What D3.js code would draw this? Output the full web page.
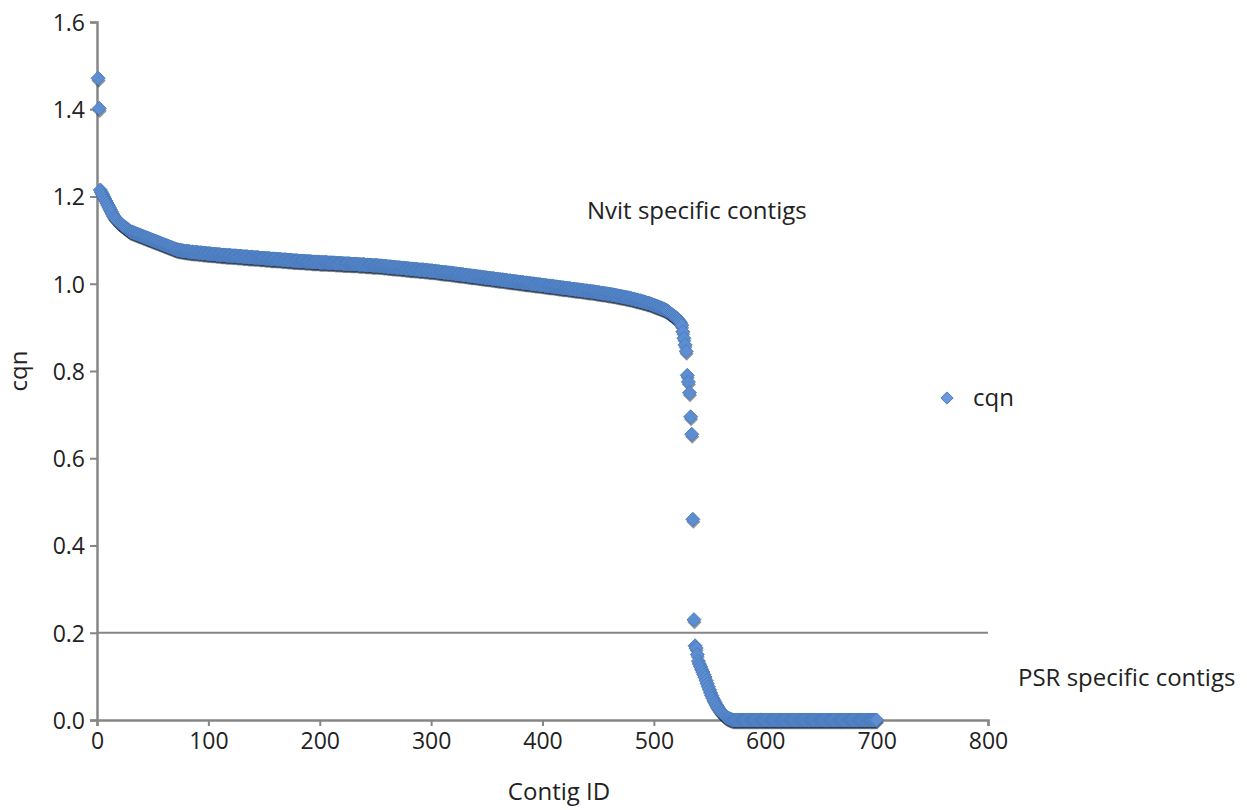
<!DOCTYPE html>
<html>
<head>
<meta charset="utf-8">
<script src="https://cdn.jsdelivr.net/npm/d3@7"></script>
<style>
  body { margin: 0; background: #fff; }
  svg text { font-family: "Open Sans", "Liberation Sans", sans-serif; fill: #222; }
</style>
</head>
<body>
<svg id="chart"></svg>
<script>
const w = 1247;
const h = 810;

// axis ticks
const xTicks = [0, 100, 200, 300, 400, 500, 600, 700, 800];
const yTicks = [0.0, 0.2, 0.4, 0.6, 0.8, 1.0, 1.2, 1.4, 1.6];
const threshold = 0.2;
const seriesName = "cqn";

// cqn value per contig, sorted high -> low (contig IDs 1..700)
const cqn = [
  1.471,1.402,1.215,1.210,1.205,1.200,1.195,1.190,1.185,1.180,
  1.175,1.170,1.165,1.160,1.155,1.152,1.149,1.146,1.143,1.140,
  1.138,1.136,1.134,1.132,1.130,1.128,1.126,1.124,1.122,1.120,
  1.119,1.118,1.117,1.116,1.115,1.114,1.113,1.112,1.111,1.110,
  1.109,1.108,1.107,1.106,1.105,1.104,1.103,1.102,1.101,1.100,
  1.099,1.098,1.097,1.096,1.095,1.094,1.093,1.092,1.091,1.090,
  1.089,1.088,1.087,1.086,1.085,1.084,1.083,1.082,1.081,1.080,
  1.079,1.078,1.078,1.077,1.077,1.076,1.076,1.075,1.075,1.075,
  1.074,1.074,1.074,1.073,1.073,1.073,1.072,1.072,1.072,1.072,
  1.071,1.071,1.071,1.071,1.070,1.070,1.070,1.070,1.069,1.069,
  1.069,1.069,1.068,1.068,1.068,1.068,1.067,1.067,1.067,1.067,
  1.066,1.066,1.066,1.066,1.066,1.065,1.065,1.065,1.065,1.065,
  1.064,1.064,1.064,1.064,1.064,1.063,1.063,1.063,1.063,1.063,
  1.062,1.062,1.062,1.062,1.062,1.061,1.061,1.061,1.061,1.061,
  1.060,1.060,1.060,1.060,1.060,1.059,1.059,1.059,1.059,1.059,
  1.058,1.058,1.058,1.058,1.058,1.057,1.057,1.057,1.057,1.057,
  1.056,1.056,1.056,1.056,1.056,1.055,1.055,1.055,1.055,1.055,
  1.054,1.054,1.054,1.054,1.054,1.053,1.053,1.053,1.053,1.053,
  1.052,1.052,1.052,1.052,1.052,1.052,1.051,1.051,1.051,1.051,
  1.051,1.051,1.050,1.050,1.050,1.050,1.050,1.050,1.050,1.049,
  1.049,1.049,1.049,1.049,1.049,1.049,1.048,1.048,1.048,1.048,
  1.048,1.048,1.048,1.047,1.047,1.047,1.047,1.047,1.047,1.047,
  1.046,1.046,1.046,1.046,1.046,1.046,1.046,1.045,1.045,1.045,
  1.045,1.045,1.045,1.045,1.044,1.044,1.044,1.044,1.044,1.044,
  1.043,1.043,1.043,1.043,1.043,1.043,1.042,1.042,1.042,1.042,
  1.042,1.042,1.041,1.041,1.041,1.041,1.040,1.040,1.040,1.040,
  1.039,1.039,1.039,1.039,1.038,1.038,1.038,1.038,1.037,1.037,
  1.037,1.037,1.036,1.036,1.036,1.036,1.035,1.035,1.035,1.035,
  1.034,1.034,1.034,1.034,1.033,1.033,1.033,1.033,1.032,1.032,
  1.032,1.032,1.032,1.031,1.031,1.031,1.031,1.030,1.030,1.030,
  1.030,1.029,1.029,1.029,1.028,1.028,1.028,1.027,1.027,1.027,
  1.026,1.026,1.026,1.026,1.025,1.025,1.025,1.024,1.024,1.024,
  1.023,1.023,1.023,1.022,1.022,1.022,1.021,1.021,1.021,1.020,
  1.020,1.020,1.019,1.019,1.019,1.018,1.018,1.018,1.017,1.017,
  1.017,1.016,1.016,1.016,1.015,1.015,1.015,1.014,1.014,1.014,
  1.013,1.013,1.013,1.012,1.012,1.012,1.011,1.011,1.011,1.010,
  1.010,1.010,1.009,1.009,1.009,1.008,1.008,1.008,1.007,1.007,
  1.007,1.006,1.006,1.006,1.005,1.005,1.005,1.004,1.004,1.004,
  1.003,1.003,1.003,1.002,1.002,1.002,1.001,1.001,1.001,1.000,
  1.000,1.000,0.999,0.999,0.999,0.998,0.998,0.998,0.997,0.997,
  0.997,0.996,0.996,0.996,0.995,0.995,0.995,0.994,0.994,0.994,
  0.993,0.993,0.993,0.992,0.992,0.992,0.991,0.991,0.991,0.990,
  0.990,0.990,0.989,0.989,0.989,0.988,0.988,0.988,0.987,0.987,
  0.987,0.986,0.986,0.986,0.985,0.985,0.985,0.984,0.984,0.984,
  0.983,0.983,0.983,0.982,0.982,0.982,0.981,0.981,0.980,0.980,
  0.980,0.979,0.979,0.978,0.978,0.978,0.977,0.977,0.976,0.976,
  0.976,0.975,0.975,0.974,0.974,0.973,0.973,0.972,0.972,0.971,
  0.971,0.970,0.970,0.969,0.969,0.968,0.968,0.967,0.967,0.966,
  0.965,0.965,0.964,0.963,0.963,0.962,0.961,0.961,0.960,0.959,
  0.959,0.958,0.957,0.956,0.956,0.955,0.954,0.953,0.952,0.951,
  0.950,0.949,0.948,0.947,0.946,0.945,0.944,0.943,0.942,0.941,
  0.939,0.938,0.936,0.934,0.932,0.930,0.928,0.926,0.924,0.922,
  0.920,0.917,0.914,0.910,0.905,0.890,0.875,0.860,0.845,0.790,
  0.775,0.750,0.695,0.655,0.460,0.230,0.170,0.165,0.150,0.135,
  0.128,0.122,0.116,0.110,0.104,0.098,0.090,0.083,0.076,0.069,
  0.062,0.056,0.050,0.045,0.040,0.035,0.031,0.027,0.023,0.020,
  0.017,0.014,0.011,0.009,0.007,0.005,0.004,0.003,0.002,0.001,
  0,0,0,0,0,0,0,0,0,0,0,0,0,0,0,0,0,0,0,0,0,0,0,0,0,0,
  0,0,0,0,0,0,0,0,0,0,0,0,0,0,0,0,0,0,0,0,0,0,0,0,0,0,
  0,0,0,0,0,0,0,0,0,0,0,0,0,0,0,0,0,0,0,0,0,0,0,0,0,0,
  0,0,0,0,0,0,0,0,0,0,0,0,0,0,0,0,0,0,0,0,0,0,0,0,0,0,
  0,0,0,0,0,0,0,0,0,0,0,0,0,0,0,0,0,0,0,0,0,0,0,0,0,0
];

const points = cqn.map((v, i) => ({ id: i + 1, v }));

const svg = d3.select("#chart")
  .attr("width", w)
  .attr("height", h);

// plot area
const margin = { top: 22, right: 259, bottom: 90, left: 97 };
const x = d3.scaleLinear().domain([0, 800]).range([margin.left, w - margin.right]);
const y = d3.scaleLinear().domain([0, 1.6]).range([h - margin.bottom, margin.top]);

const axisColor = "#868686";

// x axis
const xAxis = svg.append("g")
  .attr("transform", `translate(0,${y(0)})`)
  .call(d3.axisBottom(x).tickValues(xTicks).tickSize(6).tickPadding(7).tickFormat(d3.format("d")));

// y axis
const yAxis = svg.append("g")
  .attr("transform", `translate(${x(0)},0)`)
  .call(d3.axisLeft(y).tickValues(yTicks).tickSize(7).tickPadding(5).tickFormat(d3.format(".1f")));

[xAxis, yAxis].forEach(a => {
  a.select(".domain").attr("stroke", axisColor).attr("stroke-width", 2.5);
  a.selectAll(".tick line").attr("stroke", axisColor).attr("stroke-width", 2);
  a.selectAll(".tick text")
    .attr("font-size", 23)
    .attr("fill", "#222")
    .style("font-family", "'Open Sans', sans-serif");
});
yAxis.selectAll(".tick text").attr("dy", "0.36em");

// threshold line at 0.2
svg.append("line")
  .attr("x1", x(0)).attr("x2", x(800))
  .attr("y1", y(threshold)).attr("y2", y(threshold))
  .attr("stroke", axisColor)
  .attr("stroke-width", 2);

// diamond markers
const diamond = d3.symbol().type(d3.symbolDiamond2).size(125);

const marks = svg.append("g");
marks.selectAll("path.shadow")
  .data(points)
  .join("path")
  .attr("class", "shadow")
  .attr("d", diamond)
  .attr("transform", d => `translate(${x(d.id) + 0.5},${y(d.v) + 2.5})`)
  .attr("fill", "#1e2a3e")
  .attr("opacity", 0.5);

marks.selectAll("path.pt")
  .data(points)
  .join("path")
  .attr("class", "pt")
  .attr("d", diamond)
  .attr("transform", d => `translate(${x(d.id)},${y(d.v)})`)
  .attr("fill", "#5e8ed2")
  .attr("stroke", "#4b7cbe")
  .attr("stroke-width", 1);

// axis titles
svg.append("text")
  .attr("transform", `translate(27,${(y(0) + y(1.6)) / 2}) rotate(-90)`)
  .attr("text-anchor", "middle")
  .attr("font-size", 24)
  .text("cqn");

svg.append("text")
  .attr("x", 559)
  .attr("y", 800)
  .attr("text-anchor", "middle")
  .attr("font-size", 24)
  .text("Contig ID");

// region annotations
svg.append("text")
  .attr("x", 587)
  .attr("y", 219)
  .attr("font-size", 24)
  .text("Nvit specific contigs");

svg.append("text")
  .attr("x", 1018)
  .attr("y", 686)
  .attr("font-size", 24)
  .text("PSR specific contigs");

// legend
const legend = svg.append("g").attr("transform", "translate(947,398)");
legend.append("path")
  .attr("d", d3.symbol().type(d3.symbolDiamond2).size(95))
  .attr("fill", "#6a98d8")
  .attr("stroke", "#4b7cbe");
legend.append("text")
  .attr("x", 26)
  .attr("y", 8)
  .attr("font-size", 24)
  .text(seriesName);
</script>
</body>
</html>
